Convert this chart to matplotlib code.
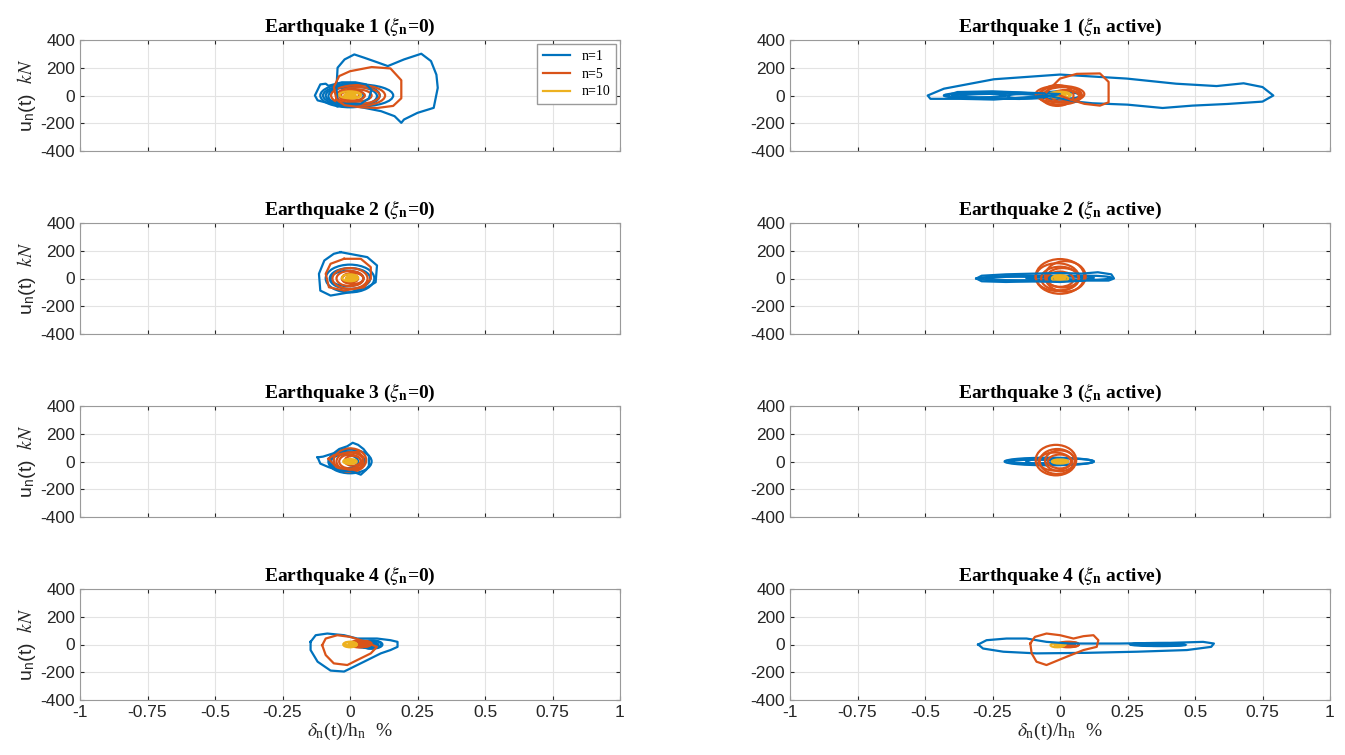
import matplotlib
matplotlib.use("Agg")
import matplotlib.pyplot as plt
from matplotlib.patches import Ellipse
from matplotlib.lines import Line2D
import numpy as np

plt.rcParams['mathtext.fontset'] = 'stix'

C1 = '#0072BD'
C5 = '#D95319'
C10 = '#EDB120'

titles = ['Earthquake 1 ($\\xi_\\mathregular{n}$=0)', 'Earthquake 1 ($\\xi_\\mathregular{n}$ active)',
          'Earthquake 2 ($\\xi_\\mathregular{n}$=0)', 'Earthquake 2 ($\\xi_\\mathregular{n}$ active)',
          'Earthquake 3 ($\\xi_\\mathregular{n}$=0)', 'Earthquake 3 ($\\xi_\\mathregular{n}$ active)',
          'Earthquake 4 ($\\xi_\\mathregular{n}$=0)', 'Earthquake 4 ($\\xi_\\mathregular{n}$ active)']
series_labels = ['n=1', 'n=5', 'n=10']
xticks = [-1, -0.75, -0.5, -0.25, 0, 0.25, 0.5, 0.75, 1]
xticklabels = ['-1', '-0.75', '-0.5', '-0.25', '0', '0.25', '0.5', '0.75', '1']
yticks = [-400, -200, 0, 200, 400]

# outer hysteresis loops: (drift %, force kN)
eq1_free_n1 = [(-0.046, -77), (-0.05, 60), (-0.046, 200), (-0.02, 260), (0.016, 296), (0.053, 272),
               (0.10, 240), (0.14, 212), (0.20, 260), (0.264, 301), (0.30, 248), (0.32, 150),
               (0.325, 55), (0.31, -89), (0.25, -125), (0.20, -173), (0.19, -197), (0.165, -149),
               (0.115, -113), (0.053, -89), (-0.009, -65), (-0.046, -77)]
eq1_free_n1b = [(-0.02, -60), (-0.08, -55), (-0.12, -35), (-0.13, 0), (-0.12, 40), (-0.11, 80),
                (-0.09, 85), (-0.08, 70), (-0.06, 80), (-0.03, 95), (0.02, 95), (0.06, 80),
                (0.08, 40), (0.07, -20), (0.04, -60), (-0.02, -60)]
eq1_free_n5 = [(-0.05, -30), (-0.06, 60), (-0.04, 140), (0.0, 175), (0.08, 205), (0.15, 195),
               (0.19, 110), (0.19, -20), (0.16, -75), (0.10, -90), (0.04, -85), (-0.02, -70), (-0.05, -30)]

eq1_act_n1 = [(-0.05, 0), (-0.12, -12), (-0.245, -29), (-0.37, -24), (-0.48, -24), (-0.49, 0),
              (-0.43, 49), (-0.245, 117), (0.0, 151), (0.247, 122), (0.43, 85), (0.58, 68),
              (0.68, 88), (0.75, 61), (0.79, 0), (0.75, -44), (0.62, -61), (0.49, -73),
              (0.38, -90), (0.25, -66), (0.12, -56), (0.06, -44), (0.0, -20), (-0.05, 0)]
eq1_act_n1b = [(-0.42, 0), (-0.38, 25), (-0.25, 30), (-0.12, 20), (-0.05, 15), (0.0, 10),
               (-0.05, -10), (-0.15, -25), (-0.28, -20), (-0.4, -15), (-0.42, 0)]
eq1_act_n5 = [(-0.05, 24), (0.0, 122), (0.062, 156), (0.148, 159), (0.18, 98), (0.18, -49),
              (0.148, -73), (0.09, -60), (0.04, -30), (0.0, 0)]

eq2_free_n1 = [(-0.035, 190), (0.02, 170), (0.064, 154), (0.10, 94), (0.095, -27), (0.064, -63),
               (0.0, -99), (-0.072, -123), (-0.11, -87), (-0.115, 34), (-0.095, 130),
               (-0.06, 178), (-0.035, 190)]
eq2_free_n5 = [(-0.022, 142), (0.04, 142), (0.077, 82), (0.077, -2), (0.052, -63), (-0.022, -87),
               (-0.078, -63), (-0.09, 34), (-0.072, 106), (-0.022, 142)]

eq2_act_n1 = [(-0.31, 0), (-0.29, 20), (-0.2, 30), (-0.1, 35), (0.0, 40), (0.08, 35), (0.14, 45),
              (0.19, 30), (0.2, 0), (0.18, -15), (0.1, -15), (0.0, -25), (-0.1, -20),
              (-0.2, -25), (-0.29, -20), (-0.31, 0)]

eq3_free_n1 = [(-0.12, 30), (-0.1, 35), (-0.06, 60), (-0.04, 90), (-0.01, 110), (0.01, 135),
               (0.03, 120), (0.05, 90), (0.07, 40), (0.07, -30), (0.06, -60), (0.04, -95),
               (0.02, -80), (0.0, -70), (-0.04, -65), (-0.08, -40), (-0.11, -15), (-0.12, 30)]
eq3_free_n5 = [(-0.08, 20), (-0.06, 45), (-0.02, 60), (0.03, 70), (0.05, 30), (0.04, -40),
               (0.0, -60), (-0.05, -40), (-0.08, 20)]

eq4_free_n1 = [(-0.146, 19), (-0.127, 67), (-0.084, 79), (-0.022, 67), (0.027, 43), (0.10, 43),
               (0.15, 31), (0.176, 19), (0.176, -17), (0.15, -40), (0.114, -64), (0.052, -124),
               (-0.022, -195), (-0.072, -188), (-0.12, -124), (-0.146, -40), (-0.146, 19)]
eq4_free_n5 = [(-0.103, -5), (-0.09, 43), (-0.047, 67), (0.0, 55), (0.04, 31), (0.10, -17),
               (0.077, -64), (0.027, -112), (-0.01, -148), (-0.06, -136), (-0.09, -76), (-0.103, -5)]

eq4_act_n1 = [(-0.303, 0), (-0.272, 31), (-0.198, 43), (-0.124, 43), (-0.05, 19), (0.037, 7),
              (0.22, 7), (0.41, 12), (0.53, 19), (0.57, 7), (0.56, -17), (0.47, -40),
              (0.285, -52), (0.1, -60), (-0.087, -64), (-0.21, -52), (-0.285, -29), (-0.303, 0)]
eq4_act_n5 = [(-0.11, 7), (-0.093, 55), (-0.05, 79), (0.0, 67), (0.05, 43), (0.087, 60),
              (0.124, 67), (0.142, 31), (0.136, -17), (0.087, -40), (0.025, -88), (-0.05, -148),
              (-0.087, -124), (-0.105, -64), (-0.11, 7)]

# inner cycles: (centre drift, centre force, drift span, force span)
rings = {
    0: {C1: [(0.0, 0, 0.22, 170), (0.01, -5, 0.18, 140), (0.03, 0, 0.26, 160), (-0.02, 0, 0.14, 110)],
        C5: [(0.03, 0, 0.20, 150), (0.03, 0, 0.16, 120), (0.02, 0, 0.12, 90), (0.01, 0, 0.09, 70),
             (0.0, 5, 0.07, 50)],
        C10: [(0.0, 5, 0.08, 50), (0.01, 0, 0.06, 40), (0.0, 0, 0.04, 30)]},
    1: {C1: [(-0.25, 0, 0.36, 50), (-0.22, -5, 0.3, 35), (-0.3, 0, 0.2, 25), (-0.12, -5, 0.15, 35),
             (0.0, 0, 0.15, 60), (0.02, 0, 0.12, 45)],
        C5: [(0.0, 0, 0.16, 130), (0.01, 5, 0.14, 110), (-0.01, 0, 0.12, 150), (0.02, -5, 0.10, 90),
             (0.0, 10, 0.18, 120), (0.03, 0, 0.09, 70)],
        C10: [(0.0, 5, 0.08, 45), (0.005, 0, 0.06, 35), (0.0, 0, 0.04, 25)]},
    2: {C1: [(0.0, 0, 0.18, 200), (0.0, 0, 0.15, 150), (-0.01, 0, 0.12, 110)],
        C5: [(0.0, 0, 0.13, 150), (0.0, 0, 0.10, 110), (0.01, 0, 0.08, 80), (0.0, 0, 0.06, 60)],
        C10: [(0.0, 5, 0.06, 50), (0.005, 0, 0.04, 30)]},
    3: {C1: [(-0.1, 0, 0.4, 40), (0.0, 5, 0.25, 30), (-0.15, 0, 0.25, 25), (0.1, 5, 0.18, 30)],
        C5: [(0.0, 15, 0.18, 250), (-0.01, 10, 0.16, 200), (0.0, 0, 0.14, 170), (0.01, 5, 0.12, 140),
             (0.0, -5, 0.10, 110), (0.02, 15, 0.15, 220)],
        C10: [(0.0, 0, 0.06, 50), (0.0, 5, 0.04, 35)]},
    4: {C1: [(0.0, 0, 0.16, 170), (-0.01, 0, 0.13, 140), (-0.02, 0, 0.1, 100)],
        C5: [(0.0, 10, 0.12, 170), (0.0, 0, 0.1, 130), (0.0, 0, 0.08, 100), (0.01, 5, 0.06, 70)],
        C10: [(0.0, 0, 0.05, 35), (0.0, 0, 0.03, 20)]},
    5: {C1: [(-0.04, 0, 0.33, 55), (-0.08, 0, 0.22, 40), (0.0, 0, 0.25, 45), (-0.1, 0, 0.18, 25)],
        C5: [(-0.015, 10, 0.15, 220), (-0.01, 0, 0.13, 180), (0.0, 5, 0.11, 150), (-0.02, 0, 0.12, 130),
             (0.0, 0, 0.09, 100)],
        C10: [(0.0, 0, 0.06, 30), (0.0, 0, 0.04, 20)]},
    6: {C1: [(0.08, 0, 0.08, 60), (0.07, -5, 0.06, 40), (0.09, 0, 0.05, 50), (0.05, 0, 0.06, 45),
             (0.075, -5, 0.06, 45)],
        C5: [(0.04, 5, 0.08, 50), (0.03, 0, 0.06, 40), (0.05, 0, 0.05, 30)],
        C10: [(0.0, 0, 0.05, 40), (0.0, 5, 0.04, 25), (0.01, 0, 0.03, 20)]},
    7: {C1: [(0.36, 0, 0.2, 22), (0.38, -3, 0.17, 16), (0.33, 3, 0.12, 14)],
        C5: [(0.03, 0, 0.08, 40), (0.04, 0, 0.06, 35), (0.03, 0, 0.05, 25)],
        C10: [(-0.01, -5, 0.05, 30), (0.0, 0, 0.04, 20)]},
}
# dense bundles of cycles that read as solid patches
solid = {6: [C1, C5, C10], 7: [C1, C5, C10]}

loops = {
    0: [(eq1_free_n1, C1), (eq1_free_n1b, C1), (eq1_free_n5, C5)],
    1: [(eq1_act_n1, C1), (eq1_act_n1b, C1), (eq1_act_n5, C5)],
    2: [(eq2_free_n1, C1), (eq2_free_n5, C5)],
    3: [(eq2_act_n1, C1)],
    4: [(eq3_free_n1, C1), (eq3_free_n5, C5)],
    5: [],
    6: [(eq4_free_n1, C1), (eq4_free_n5, C5)],
    7: [(eq4_act_n1, C1), (eq4_act_n5, C5)],
}

fig = plt.figure(figsize=(13.45, 7.55), dpi=100)
W, H = 1345, 755
lefts = [80, 790]
tops = [40, 223, 406, 589]
axw, axh = 540, 111

for i in range(8):
    r, c = divmod(i, 2)
    ax = fig.add_axes([lefts[c] / W, 1 - (tops[r] + axh) / H, axw / W, axh / H])
    for pts, col in loops[i]:
        xy = np.array(pts)
        ax.plot(xy[:, 0], xy[:, 1], color=col, lw=1.6)
    for col in (C1, C5, C10):
        for cx, cy, w, h in rings[i][col]:
            ax.add_patch(Ellipse((cx, cy), w, h, fill=False, edgecolor=col, lw=1.6))
        if col in solid.get(i, []) or col == C10:
            cx, cy, w, h = rings[i][col][-1]
            ax.add_patch(Ellipse((cx, cy), w, h, facecolor=col, edgecolor=col, lw=1.6))

    ax.set_xlim(-1, 1)
    ax.set_ylim(-400, 400)
    ax.set_xticks(xticks)
    ax.set_yticks(yticks)
    ax.grid(True, color='#e3e3e3', lw=0.8)
    ax.set_axisbelow(True)
    ax.tick_params(direction='in', length=3, top=True, right=True, colors='#262626',
                   labelsize=12.5)
    for s in ax.spines.values():
        s.set_color('#9a9a9a')
    ax.set_yticklabels([str(v) for v in yticks], family='Liberation Sans')
    if r == 3:
        ax.set_xticklabels(xticklabels, family='Liberation Sans')
        ax.set_xlabel('$\\delta_\\mathregular{n}$(t)/h$_\\mathregular{n}$  %', family='Liberation Serif',
                      fontsize=14, color='#262626', labelpad=1)
    else:
        ax.set_xticklabels([])
    if c == 0:
        ax.set_ylabel('u$_\\mathregular{n}$(t)  $\\it{kN}$', family='Liberation Sans',
                      fontsize=14, color='#262626', labelpad=2)
    ax.set_title(titles[i], family='Liberation Serif', fontweight='bold', fontsize=14, pad=6)

    if i == 0:
        handles = [Line2D([], [], color=col, lw=1.6) for col in (C1, C5, C10)]
        ax.legend(handles, series_labels, loc='upper right',
                  prop={'family': 'Liberation Serif', 'size': 10}, fancybox=False,
                  framealpha=1, edgecolor='#9a9a9a', handlelength=2.0,
                  borderaxespad=0.3, labelspacing=0.35)

fig.savefig('out.png', dpi=100)
